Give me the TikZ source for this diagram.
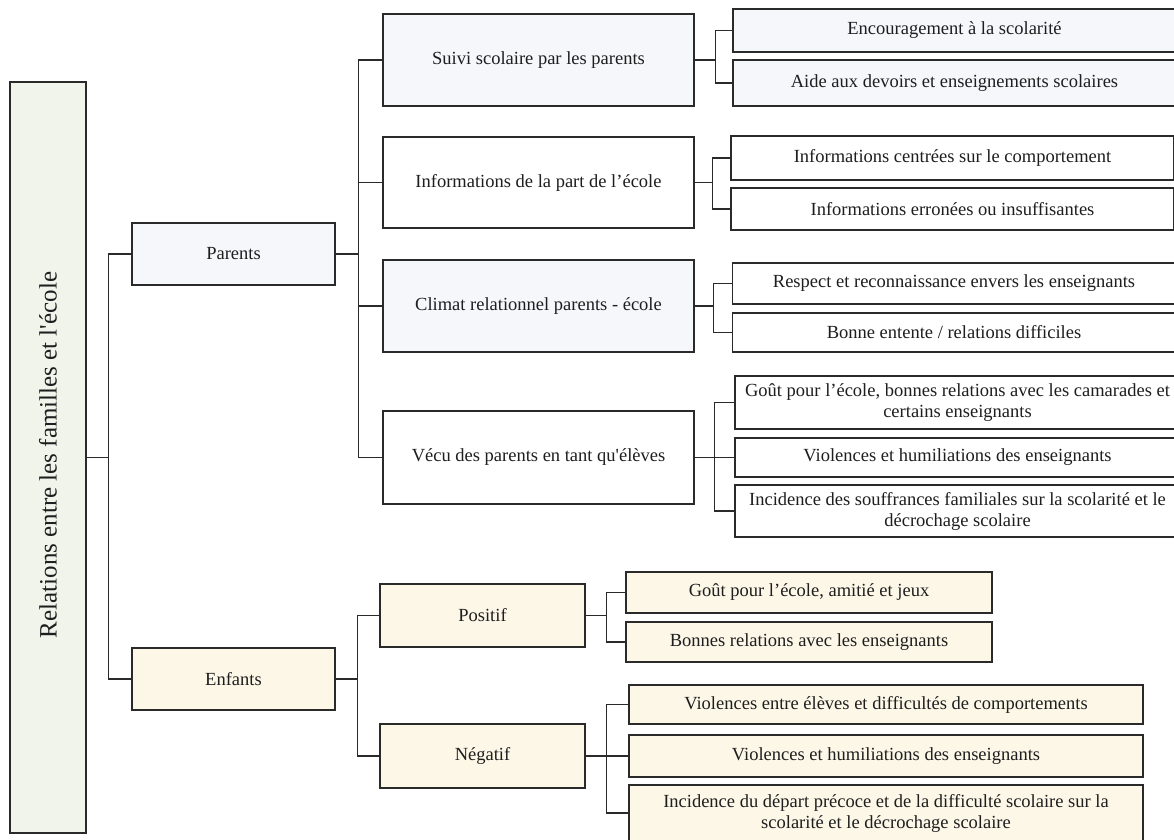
\documentclass[tikz,border=0pt]{standalone}
\usepackage{fontspec}
\setmainfont{Liberation Serif}
\definecolor{rootfill}{HTML}{F0F4EA}
\definecolor{bluefill}{HTML}{F6F7FA}
\definecolor{creamfill}{HTML}{FDF7E8}
\definecolor{linec}{HTML}{2A2A2A}
\definecolor{textc}{HTML}{1E1E1E}
\tikzset{
  box/.style={draw=linec, line width=1.4pt, fill=white, inner sep=0pt, align=center,
    text=textc, font=\fontsize{18.5}{21}\selectfont},
  bluebox/.style={box, fill=bluefill},
  creambox/.style={box, fill=creamfill},
  conn/.style={draw=linec, line width=1.4pt},
}
\begin{document}
\begin{tikzpicture}[x=1pt, y=-1pt]
\clip (0,0) rectangle (1174,839);
\fill[white] (0,0) rectangle (1174,839);
% root
\node[box, fill=rootfill, minimum width=76pt, minimum height=751pt] (root) at (48,457.5) {};
\node[rotate=90, text=textc, font=\fontsize{25}{28}\selectfont] (roottext) at (48,455) {Relations entre les familles et l\textquotesingle école};
% level 1
\node[bluebox, minimum width=203pt, minimum height=62pt] (parents) at (233.5,254) {Parents};
\node[creambox, minimum width=203pt, minimum height=62pt] (enfants) at (233.5,679) {Enfants};
% level 2 parents
\node[bluebox, minimum width=311pt, minimum height=92pt] (suivi) at (538.5,60) {Suivi scolaire par les parents};
\node[box, minimum width=311pt, minimum height=91pt] (info) at (538.5,182.5) {Informations de la part de l’école};
\node[bluebox, minimum width=311pt, minimum height=92pt] (climat) at (538.5,306) {Climat relationnel parents - école};
\node[box, minimum width=311pt, minimum height=93pt] (vecu) at (538.5,457.5) {Vécu des parents en tant qu\textquotesingle élèves};
% level 2 enfants
\node[creambox, minimum width=205pt, minimum height=63pt] (positif) at (482.5,615.5) {Positif};
\node[creambox, minimum width=205pt, minimum height=64pt] (negatif) at (482.5,756) {Négatif};
% leaves parents
\node[bluebox, minimum width=443pt, minimum height=43pt] (s1) at (954.5,30.5) {Encouragement à la scolarité};
\node[bluebox, minimum width=443pt, minimum height=46pt] (s2) at (954.5,83) {Aide aux devoirs et enseignements scolaires};
\node[box, minimum width=443pt, minimum height=44pt] (i1) at (952.5,158) {Informations centrées sur le comportement};
\node[box, minimum width=443pt, minimum height=42pt] (i2) at (952.5,209) {Informations erronées ou insuffisantes};
\node[box, minimum width=443pt, minimum height=41pt] (c1) at (954,283.5) {Respect et reconnaissance envers les enseignants};
\node[box, minimum width=443pt, minimum height=39pt] (c2) at (954,332.5) {Bonne entente / relations difficiles};
\node[box, minimum width=445pt, minimum height=53pt] (v1) at (957.5,402.5) {Goût pour l’école, bonnes relations avec les camarades et\\certains enseignants};
\node[box, minimum width=445pt, minimum height=39pt] (v2) at (957.5,457.5) {Violences et humiliations des enseignants};
\node[box, minimum width=445pt, minimum height=52pt] (v3) at (957.5,511) {Incidence des souffrances familiales sur la scolarité et le\\décrochage scolaire};
% leaves enfants
\node[creambox, minimum width=366pt, minimum height=41pt] (p1) at (809,592.5) {Goût pour l’école, amitié et jeux};
\node[creambox, minimum width=366pt, minimum height=40pt] (p2) at (809,642) {Bonnes relations avec les enseignants};
\node[creambox, minimum width=514pt, minimum height=39pt] (n1) at (886,704.5) {Violences entre élèves et difficultés de comportements};
\node[creambox, minimum width=514pt, minimum height=42pt] (n2) at (886,756) {Violences et humiliations des enseignants};
\node[creambox, minimum width=514pt, minimum height=56pt] (n3) at (886,813) {Incidence du départ précoce et de la difficulté scolaire sur la\\scolarité et le décrochage scolaire};
% connectors
\foreach \c in {parents,enfants} \draw[conn] (root.east) -- +(22,0) |- (\c.west);
\foreach \c in {suivi,info,climat,vecu} \draw[conn] (parents.east) -- +(23,0) |- (\c.west);
\foreach \c in {positif,negatif} \draw[conn] (enfants.east) -- +(22,0) |- (\c.west);
\foreach \c in {s1,s2} \draw[conn] (suivi.east) -- +(21,0) |- (\c.west);
\foreach \c in {i1,i2} \draw[conn] (info.east) -- +(18,0) |- (\c.west);
\foreach \c in {c1,c2} \draw[conn] (climat.east) -- +(19,0) |- (\c.west);
\foreach \c in {v1,v2,v3} \draw[conn] (vecu.east) -- +(20,0) |- (\c.west);
\foreach \c in {p1,p2} \draw[conn] (positif.east) -- +(21,0) |- (\c.west);
\foreach \c in {n1,n2,n3} \draw[conn] (negatif.east) -- +(21,0) |- (\c.west);
\end{tikzpicture}
\end{document}
